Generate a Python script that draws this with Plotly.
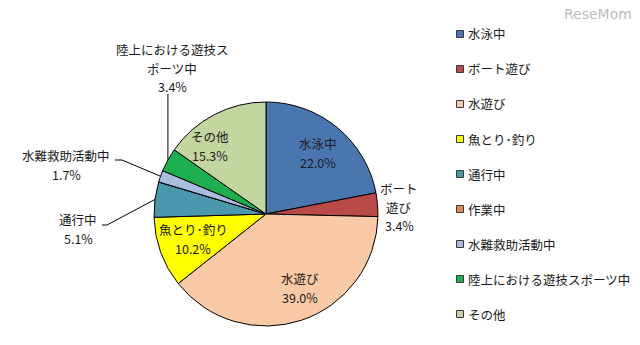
import math
import plotly.graph_objects as go

# ---- data ----
categories = ["水泳中", "ボート遊び", "水遊び", "魚とり･釣り", "通行中",
              "作業中", "水難救助活動中", "陸上における遊技スポーツ中", "その他"]
values = [22.0, 3.4, 39.0, 10.2, 5.1, 0.0, 1.7, 3.4, 15.3]
slice_labels = [["水泳中"], ["ボート", "遊び"], ["水遊び"], ["魚とり･釣り"], ["通行中"],
                [], ["水難救助活動中"], ["陸上における遊技ス", "ポーツ中"], ["その他"]]

# ---- styling / layout ----
colors = ["#4A76B0", "#B94A48", "#FAC9A6", "#FFFF00", "#4A98AE",
          "#E0894A", "#A9BEDF", "#1DAF4F", "#C4D69F"]
W, H = 640, 345
CX, CY, R = 266, 214, 112
FONT = "Noto Sans CJK JP"
FS = 12.5
TXT = "#1a1a1a"
LINE_STEP = 18.2

# label anchor positions in pixels (center of the text block)
label_pos = {0: (318, 153), 1: (399, 207), 2: (300, 288), 3: (193, 239),
             4: (78, 229), 6: (66, 165), 7: (172, 68), 8: (210, 146)}
# leader line starts (pixels): list of points before the slice edge
leader_start = {6: [(115, 160), (122, 160)], 4: [(102, 225), (107, 225)], 7: "vertical"}


def px(x):
    return x / W


def py(y):
    return 1 - y / H


fig = go.Figure()
fig.add_trace(go.Pie(
    labels=categories, values=values, sort=False, direction="clockwise",
    rotation=0, textinfo="none", showlegend=False,
    marker=dict(colors=colors, line=dict(color="#000000", width=1)),
    domain=dict(x=[px(CX - R), px(CX + R)], y=[py(CY + R), py(CY - R)]),
))

annotations = []
shapes = []
total = sum(values)
cum = 0.0
for i, v in enumerate(values):
    mid = math.radians((cum + v / 2) / total * 360)
    cum += v
    if i in label_pos:
        lx, ly = label_pos[i]
        lines = slice_labels[i] + [f"{v:.1f}%"]
        n = len(lines)
        for k, t in enumerate(lines):
            yk = ly + (k - (n - 1) / 2) * LINE_STEP
            annotations.append(dict(
                x=px(lx), y=py(yk), xref="paper", yref="paper", showarrow=False,
                text=t, align="center", xanchor="center", yanchor="middle",
                borderpad=0,
                font=dict(family=FONT, size=FS, color=TXT)))
    if i in leader_start:
        ex = CX + R * math.sin(mid)
        ey = CY - R * math.cos(mid)
        if leader_start[i] == "vertical":
            pts = [(ex, 94), (ex, ey)]
        else:
            pts = leader_start[i] + [(ex, ey)]
        path = "M " + " L ".join(f"{px(a):.5f},{py(b):.5f}" for a, b in pts)
        shapes.append(dict(type="path", xref="paper", yref="paper", path=path,
                           line=dict(color="#000000", width=1)))

# manual legend
LX, LY0, LSTEP, MS = 460, 34, 35, 7
for i, name in enumerate(categories):
    yc = LY0 + i * LSTEP
    shapes.append(dict(type="rect", xref="paper", yref="paper",
                       x0=px(LX - MS / 2), x1=px(LX + MS / 2),
                       y0=py(yc + MS / 2), y1=py(yc - MS / 2),
                       fillcolor=colors[i], line=dict(color="#3a3a3a", width=1)))
    annotations.append(dict(
        x=px(LX + 7), y=py(yc), xref="paper", yref="paper", showarrow=False,
        text=name, xanchor="left", yanchor="middle", borderpad=0,
        font=dict(family=FONT, size=FS, color=TXT)))

# watermark
annotations.append(dict(
    x=px(634), y=py(14), xref="paper", yref="paper", showarrow=False,
    text="ReseMom", xanchor="right", yanchor="middle",
    font=dict(family="DejaVu Sans", size=14, color="rgba(140,140,140,0.6)")))

fig.update_layout(
    width=W, height=H, margin=dict(l=0, r=0, t=0, b=0),
    paper_bgcolor="white", plot_bgcolor="white",
    annotations=annotations, shapes=shapes,
)
fig.write_html("out.html")
